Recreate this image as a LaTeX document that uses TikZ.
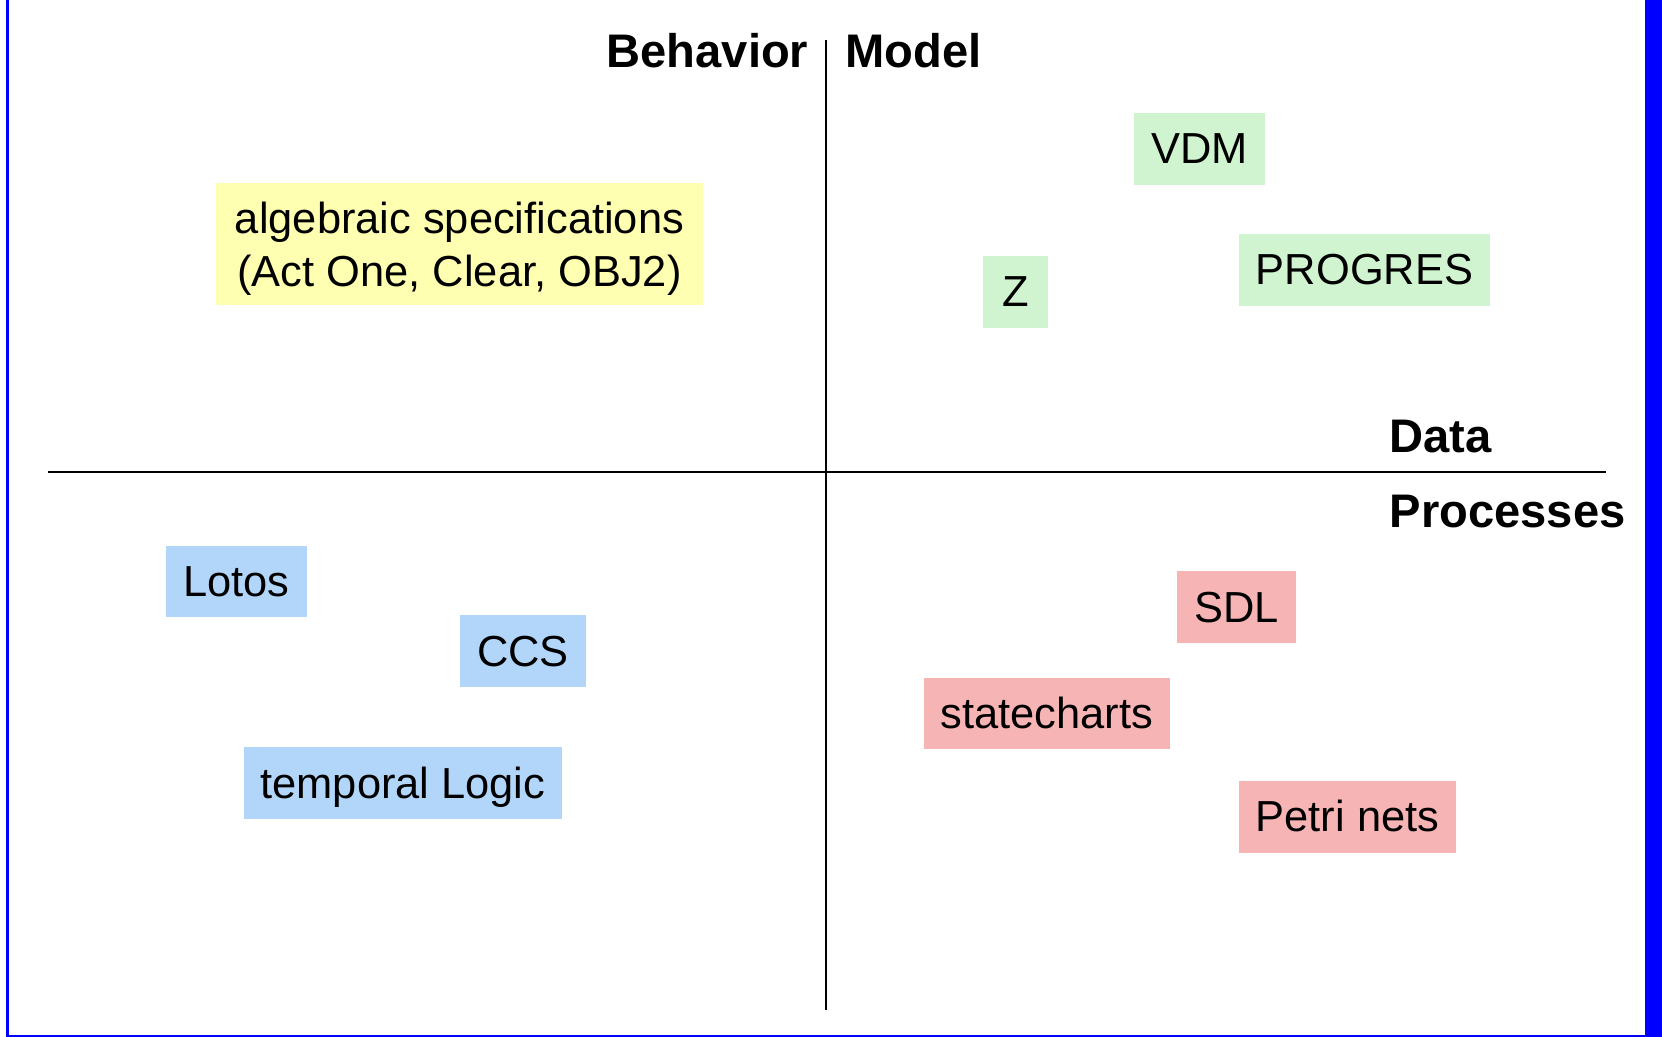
\documentclass[tikz,border=0pt]{standalone}
\usepackage{fontspec}
\setmainfont{Liberation Sans}
\usepackage{tikz}

\definecolor{algyellow}{RGB}{255,255,178}
\definecolor{modgreen}{RGB}{208,244,208}
\definecolor{procblue}{RGB}{178,214,250}
\definecolor{petrired}{RGB}{246,180,180}

\begin{document}
\begin{tikzpicture}[x=0.01cm,y=-0.01cm]
% Default looks of the labels and boxes
\tikzstyle{axislabel} = [font=\fontsize{13.4pt}{15pt}\selectfont\bfseries, inner sep=0pt]
\tikzstyle{tag} = [font=\fontsize{12.35pt}{15.1pt}\selectfont, inner xsep=0.17cm, minimum height=0.7cm, text height=0.39cm, text depth=0.09cm]
\useasboundingbox (0,0) rectangle (1662,1037);
% Frame of the slide
\fill [blue] (1645,0) rectangle (1662,1037);
\draw [blue, line width=0.6pt] (7.5,0) -- (7.5,1036) -- (1645,1036);
% Axes
\coordinate (top) at (826,40);
\coordinate (bottom) at (826,1010);
\coordinate (left) at (48,472);
\coordinate (right) at (1606,472);
\draw [line width=0.6pt] (top) -- (bottom);
\draw [line width=0.6pt] (left) -- (right);
% Quadrant labels
\node [axislabel, anchor=base east] (behavior) at (809,68) {Behavior};
\node [axislabel, anchor=base west] (model) at (845,68) {Model};
\node [axislabel, anchor=base west] (data) at (1389,453) {Data};
\node [axislabel, anchor=base west] (processes) at (1389,528) {Processes};
% Behavior / data
\node [font=\fontsize{12.35pt}{15.1pt}\selectfont, fill=algyellow, align=center, inner xsep=0.185cm, minimum height=1.22cm, text depth=0pt] (algspec) at (459.5,244) {algebraic specifications\\(Act One, Clear, OBJ2)};
% Model / data
\node [tag, fill=modgreen] (vdm) at (1199.5,149) {VDM};
\node [tag, fill=modgreen, inner xsep=0.19cm] (z) at (1015.5,292) {Z};
\node [tag, fill=modgreen] (progres) at (1364.5,270) {PROGRES};
% Behavior / processes
\node [tag, fill=procblue] (lotos) at (236.5,581.5) {Lotos};
\node [tag, fill=procblue] (ccs) at (523,651) {CCS};
\node [tag, fill=procblue] (temporal) at (403,783) {temporal Logic};
% Model / processes
\node [tag, fill=petrired] (sdl) at (1236.5,607) {SDL};
\node [tag, fill=petrired] (statecharts) at (1047,713.5) {statecharts};
\node [tag, fill=petrired] (petri) at (1347.5,817) {Petri nets};
\end{tikzpicture}
\end{document}
